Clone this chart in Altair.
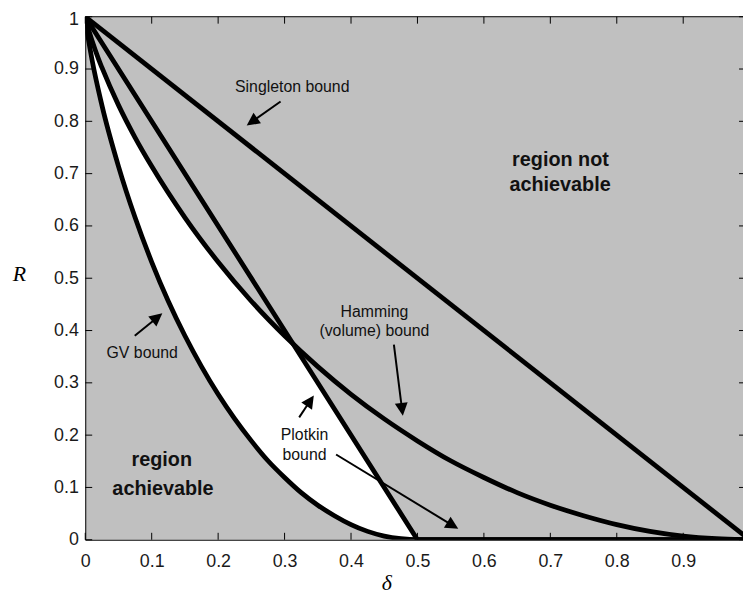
import math
import altair as alt
import pandas as pd

# ---------------- data ----------------
x_ticks = [0, 0.1, 0.2, 0.3, 0.4, 0.5, 0.6, 0.7, 0.8, 0.9]
y_ticks = [0, 0.1, 0.2, 0.3, 0.4, 0.5, 0.6, 0.7, 0.8, 0.9, 1]

singleton_delta = [0, 1]
singleton_R = [1, 0]

plotkin_delta = [0, 0.5, 1]
plotkin_R = [1, 0, 0]

hamming_delta = [0, 0.0025, 0.005, 0.01, 0.02, 0.025, 0.05, 0.075, 0.1, 0.15, 0.2, 0.25, 0.3,
                 0.35, 0.4, 0.45, 0.5, 0.55, 0.6, 0.65, 0.7, 0.75, 0.8, 0.85, 0.9, 0.95, 1]
hamming_R = [1, 0.986, 0.975, 0.955, 0.919, 0.903, 0.831, 0.769, 0.714, 0.616, 0.531, 0.456, 0.390,
             0.331, 0.278, 0.231, 0.189, 0.151, 0.119, 0.090, 0.066, 0.046, 0.029, 0.016, 0.007, 0.002, 0]

gv_delta = [0, 0.0025, 0.005, 0.01, 0.025, 0.05, 0.075, 0.1, 0.125, 0.15, 0.175, 0.2, 0.225, 0.25,
            0.275, 0.3, 0.325, 0.35, 0.375, 0.4, 0.425, 0.45, 0.475, 0.5, 1]
gv_R = [1, 0.975, 0.955, 0.919, 0.831, 0.714, 0.616, 0.531, 0.456, 0.390, 0.331, 0.278, 0.231, 0.189,
        0.151, 0.119, 0.090, 0.066, 0.046, 0.029, 0.016, 0.007, 0.002, 0, 0]

# achievable (white) region: between GV bound and min(Hamming, Plotkin)
fill_delta = [0, 0.0025, 0.005, 0.01, 0.025, 0.05, 0.075, 0.1, 0.15, 0.2, 0.25, 0.3, 0.312,
              0.35, 0.4, 0.45, 0.5]
fill_upper = [1, 0.986, 0.975, 0.955, 0.903, 0.831, 0.769, 0.714, 0.616, 0.531, 0.456, 0.390, 0.376,
              0.30, 0.2, 0.1, 0]
fill_lower = [1, 0.975, 0.955, 0.919, 0.831, 0.714, 0.616, 0.531, 0.390, 0.278, 0.189, 0.119, 0.105,
              0.066, 0.029, 0.007, 0]

label_text = ["Singleton bound", "Hamming", "(volume) bound", "GV bound", "Plotkin", "bound"]
label_delta = [0.3115, 0.4352, 0.4352, 0.0857, 0.330, 0.330]
label_R = [0.8564, 0.425, 0.389, 0.3479, 0.190, 0.152]

region_text = ["region not", "achievable", "region", "achievable"]
region_delta = [0.7153, 0.7146, 0.1152, 0.117]
region_R = [0.7153, 0.6667, 0.1407, 0.0858]

arrow_tail_delta = [0.294, 0.4645, 0.0745, 0.322, 0.3775]
arrow_tail_R = [0.838, 0.373, 0.390, 0.234, 0.163]
arrow_tip_delta = [0.243, 0.478, 0.116, 0.344, 0.5614]
arrow_tip_R = [0.792, 0.237, 0.433, 0.276, 0.0208]

# ---------------- layout ----------------
W, H = 664, 528
XMAX = 0.99
PXD = W / XMAX   # px per delta unit
PXR = H / 1.0    # px per R unit
HEAD = 13.0      # arrow head length in px
TICK = 7.0       # inward tick length px

FONT = "Liberation Sans"

xs = alt.Scale(domain=[0, XMAX], nice=False, zero=False)
ys = alt.Scale(domain=[0, 1], nice=False, zero=False)

x_axis = alt.Axis(values=x_ticks, format="~g", title="δ", grid=False, ticks=False, tickSize=0,
                  labelFontSize=18, labelFont=FONT, labelColor="#1a1a1a", labelPadding=13,
                  labelFlush=False, labelOverlap=False, domainColor="black", domainWidth=1,
                  titleFont="Liberation Serif", titleFontStyle="italic", titleFontWeight="normal",
                  titleFontSize=22, titleColor="black", titleX=304, titleY=50,
                  titleBaseline="alphabetic", titleAlign="center")
y_axis = alt.Axis(values=y_ticks, format="~g", title="R", grid=False, ticks=False, tickSize=0,
                  labelFontSize=18, labelFont=FONT, labelColor="#1a1a1a", labelPadding=7,
                  labelOffset={"condition": {"test": "datum.value == 1", "value": 3}, "value": 0},
                  labelFlush=False, labelOverlap=False, domainColor="black", domainWidth=1,
                  titleFont="Liberation Serif", titleFontStyle="italic", titleFontWeight="normal",
                  titleFontSize=22, titleColor="black", titleAngle=0, titleX=-67, titleY=266,
                  titleBaseline="alphabetic", titleAlign="center")

X = alt.X("d:Q", scale=xs, axis=x_axis)
Y = alt.Y("r:Q", scale=ys, axis=y_axis)

# white achievable region
fill_df = pd.DataFrame({"d": fill_delta, "r": fill_upper, "r2": fill_lower})
white = alt.Chart(fill_df).mark_area(color="white", opacity=1, clip=True,
                                     interpolate="monotone").encode(x=X, y=Y, y2="r2:Q")

def curve(dl, rl, name, interp="linear"):
    df = pd.DataFrame({"d": dl, "r": rl, "name": name})
    return alt.Chart(df).mark_line(color="black", strokeWidth=4.8, clip=True,
                                   interpolate=interp).encode(x=X, y=Y)

lines = [
    curve(singleton_delta, singleton_R, "Singleton"),
    curve(plotkin_delta, plotkin_R, "Plotkin"),
    curve(hamming_delta, hamming_R, "Hamming", "monotone"),
    curve(gv_delta, gv_R, "GV", "monotone"),
]

# inward ticks and top frame
tb = pd.DataFrame({"d": x_ticks, "r": [0] * len(x_ticks), "r2": [TICK / PXR] * len(x_ticks)})
tt = pd.DataFrame({"d": x_ticks, "r": [1] * len(x_ticks), "r2": [1 - TICK / PXR] * len(x_ticks)})
tl = pd.DataFrame({"d": [0] * len(y_ticks), "d2": [TICK / PXD] * len(y_ticks), "r": y_ticks})
tr = pd.DataFrame({"d": [XMAX] * len(y_ticks), "d2": [XMAX - 4.0 / PXD] * len(y_ticks), "r": y_ticks})
top = pd.DataFrame({"d": [0], "d2": [XMAX], "r": [1]})

ticks = [
    alt.Chart(tb).mark_rule(color="black", strokeWidth=1).encode(x=X, y=Y, y2="r2:Q"),
    alt.Chart(tt).mark_rule(color="black", strokeWidth=1).encode(x=X, y=Y, y2="r2:Q"),
    alt.Chart(tl).mark_rule(color="black", strokeWidth=1).encode(x=X, x2="d2:Q", y=Y),
    alt.Chart(tr).mark_rule(color="black", strokeWidth=1).encode(x=X, x2="d2:Q", y=Y),
    alt.Chart(top).mark_rule(color="black", strokeWidth=1).encode(x=X, x2="d2:Q", y=Y),
]

# arrows: shaft + rotated triangular head
rows = []
for td, tr_, pd_, pr in zip(arrow_tail_delta, arrow_tail_R, arrow_tip_delta, arrow_tip_R):
    dxp = (pd_ - td) * PXD
    dyp = -(pr - tr_) * PXR
    L = math.hypot(dxp, dyp)
    ux, uy = dxp / L, dyp / L
    ang = math.degrees(math.atan2(dxp, -dyp)) % 360
    end_d = pd_ - ux * HEAD * 0.6 / PXD
    end_r = pr + uy * HEAD * 0.6 / PXR
    rows.append({"d": td, "r": tr_, "d2": end_d, "r2": end_r, "hd": pd_, "hr": pr, "angle": ang})
arr = pd.DataFrame(rows)

shafts = alt.Chart(arr).mark_rule(color="black", strokeWidth=2).encode(
    x=X, y=Y, x2="d2:Q", y2="r2:Q")
heads = alt.Chart(arr).mark_point(
    shape="M0,0L-0.5,1L0.5,1Z", filled=True, color="black", opacity=1, size=(2 * HEAD) ** 2,
    strokeWidth=0).encode(
    x=alt.X("hd:Q", scale=xs, axis=x_axis),
    y=alt.Y("hr:Q", scale=ys, axis=y_axis),
    angle=alt.Angle("angle:Q", scale=None))

lab = pd.DataFrame({"d": label_delta, "r": label_R, "t": label_text})
labels = alt.Chart(lab).mark_text(font=FONT, fontSize=16, color="#111111", align="center",
                                  baseline="alphabetic").encode(x=X, y=Y, text="t:N")

reg = pd.DataFrame({"d": region_delta, "r": region_R, "t": region_text})
regions = alt.Chart(reg).mark_text(font=FONT, fontSize=20, fontWeight="bold", color="#111111",
                                   align="center", baseline="alphabetic").encode(x=X, y=Y, text="t:N")

chart = alt.layer(white, *lines, *ticks, shafts, heads, labels, regions).properties(
    width=W, height=H,
    autosize=alt.AutoSizeParams(type="none"),
    padding={"left": 78, "top": 6, "right": 0, "bottom": 55},
    background="white",
).configure_view(fill="#c0c0c0", stroke=None)

chart.save("out.html", embed_options={"renderer": "svg", "actions": False})
